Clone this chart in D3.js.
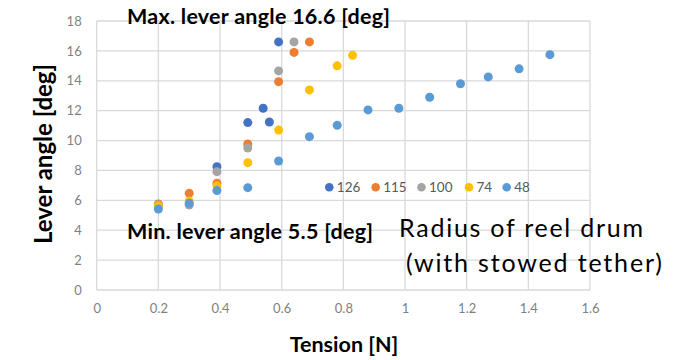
<!DOCTYPE html>
<html><head><meta charset="utf-8">
<script src="https://cdn.jsdelivr.net/npm/d3@7"></script>
<style>body{margin:0;background:#fff;} svg{display:block;}</style>
</head><body>
<svg id="c" width="689" height="360"></svg>
<script>
const seriesNames = ["126", "115", "100", "74", "48"];
const seriesColors = ["#4472C4", "#ED7D31", "#A5A5A5", "#FFC000", "#5B9BD5"];
const s126x = [0.39, 0.49, 0.54, 0.56, 0.59];
const s126y = [8.25, 11.2, 12.16, 11.24, 16.6];
const s115x = [0.2, 0.3, 0.39, 0.49, 0.59, 0.64, 0.69];
const s115y = [5.76, 6.47, 7.14, 9.77, 13.94, 15.9, 16.6];
const s100x = [0.2, 0.3, 0.39, 0.49, 0.59, 0.64];
const s100y = [5.7, 5.69, 7.92, 9.5, 14.66, 16.6];
const s74x = [0.2, 0.3, 0.39, 0.49, 0.59, 0.69, 0.78, 0.83];
const s74y = [5.62, 5.95, 6.97, 8.52, 10.7, 13.39, 15.0, 15.7];
const s48x = [0.2, 0.3, 0.39, 0.49, 0.59, 0.69, 0.78, 0.88, 0.98, 1.08, 1.18, 1.27, 1.37, 1.47];
const s48y = [5.42, 5.8, 6.65, 6.85, 8.63, 10.26, 11.02, 12.05, 12.16, 12.9, 13.8, 14.26, 14.8, 15.75];
const xTicks = [0, 0.2, 0.4, 0.6, 0.8, 1, 1.2, 1.4, 1.6];
const yTicks = [0, 2, 4, 6, 8, 10, 12, 14, 16, 18];
const xTitle = "Tension [N]";
const yTitle = "Lever angle [deg]";
const maxNote = "Max. lever angle 16.6 [deg]";
const minNote = "Min. lever angle 5.5 [deg]";
const legendTitle = ["Radius of reel drum", "(with stowed tether)"];

const allX = [s126x, s115x, s100x, s74x, s48x];
const allY = [s126y, s115y, s100y, s74y, s48y];

const svg = d3.select("#c");
const font = "Lato, 'Open Sans', sans-serif";
const x = d3.scaleLinear().domain([0, 1.6]).range([96.7, 590]);
const y = d3.scaleLinear().domain([0, 18]).range([290, 21]);

// gridlines
const g = svg.append("g");
g.selectAll("line.h").data(yTicks).join("line")
  .attr("x1", x(0)).attr("x2", x(1.6))
  .attr("y1", d => y(d)).attr("y2", d => y(d))
  .attr("stroke", "#d9d9d9").attr("stroke-width", 1.3);
g.selectAll("line.v").data(xTicks).join("line")
  .attr("y1", y(0)).attr("y2", y(18))
  .attr("x1", d => x(d)).attr("x2", d => x(d))
  .attr("stroke", "#d9d9d9").attr("stroke-width", 1.3);

const xAxis = svg.append("g").attr("transform", `translate(0,${y(0)})`)
  .call(d3.axisBottom(x).tickValues(xTicks).tickSize(0).tickPadding(14).tickFormat(d => String(d)));
const yAxis = svg.append("g").attr("transform", `translate(${x(0)},0)`)
  .call(d3.axisLeft(y).tickValues(yTicks).tickSize(0).tickPadding(15).tickFormat(d => String(d)));
[xAxis, yAxis].forEach(a => {
  a.select(".domain").remove();
  a.selectAll("text").attr("fill", "#7f7f7f").style("font-family", font).style("font-size", "13px");
});

// points
const pts = svg.append("g");
seriesNames.forEach((name, i) => {
  const data = allX[i].map((v, j) => [v, allY[i][j]]);
  pts.append("g").selectAll("circle").data(data).join("circle")
    .attr("cx", d => x(d[0])).attr("cy", d => y(d[1])).attr("r", 4.5)
    .attr("fill", seriesColors[i]);
});

// legend
const legendX = [329.3, 375.7, 421.5, 469, 506.7];
const lg = svg.append("g");
seriesNames.forEach((name, i) => {
  lg.append("circle").attr("cx", legendX[i]).attr("cy", 187.3).attr("r", 4.3).attr("fill", seriesColors[i]);
  lg.append("text").attr("x", legendX[i] + 7.5).attr("y", 192)
    .attr("fill", "#595959").style("font-family", font).style("font-size", "13.5px").text(name);
});

// annotations
svg.append("text").attr("x", 127).attr("y", 24).style("font-family", font).style("font-weight", "bold")
  .style("font-size", "21.5px").attr("textLength", 263).attr("lengthAdjust", "spacing").attr("fill", "#000").text(maxNote);
svg.append("text").attr("x", 127).attr("y", 239).style("font-family", font).style("font-weight", "bold")
  .style("font-size", "21.5px").attr("textLength", 246).attr("lengthAdjust", "spacing").attr("fill", "#000").text(minNote);
svg.append("text").attr("x", 399).attr("y", 237).style("font-family", font)
  .style("font-size", "25px").attr("textLength", 244).attr("lengthAdjust", "spacing").attr("fill", "#000").text(legendTitle[0]);
svg.append("text").attr("x", 406).attr("y", 272).style("font-family", font)
  .style("font-size", "25px").attr("textLength", 256).attr("lengthAdjust", "spacing").attr("fill", "#000").text(legendTitle[1]);

// axis titles
svg.append("text").attr("x", 344).attr("y", 352).attr("text-anchor", "middle").style("font-family", font)
  .style("font-weight", "bold").style("font-size", "21.5px").text(xTitle);
svg.append("text").attr("transform", "translate(52,154) rotate(-90)").attr("text-anchor", "middle")
  .style("font-family", font).style("font-weight", "bold").style("font-size", "24px").text(yTitle);
</script>
</body></html>
